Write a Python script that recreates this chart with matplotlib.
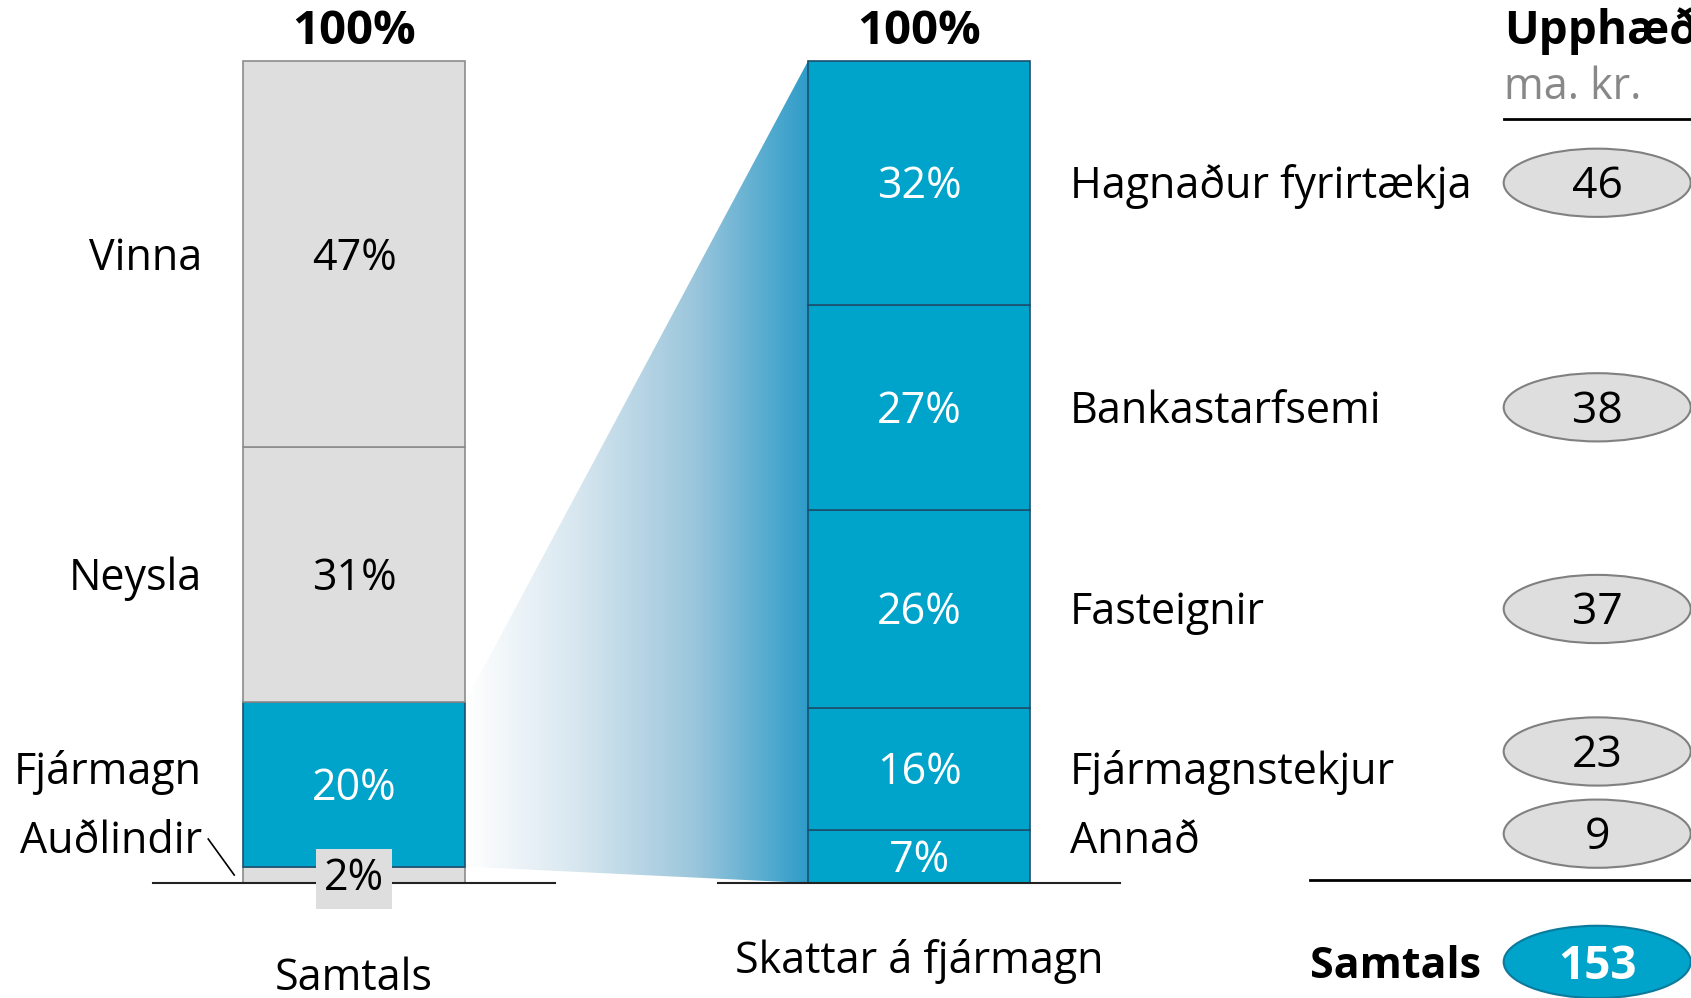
import numpy as np
import matplotlib.pyplot as plt
from matplotlib.patches import Ellipse, Polygon
from matplotlib.colors import LinearSegmentedColormap

plt.rcParams['font.family'] = ['Open Sans', 'DejaVu Sans']

# left bar: share of total taxes (bottom -> top)
left_cats = ['Auðlindir', 'Fjármagn', 'Neysla', 'Vinna']
left_pct = [2, 20, 31, 47]
# right bar: breakdown of capital taxes (bottom -> top)
right_cats = ['Annað', 'Fjármagnstekjur', 'Fasteignir', 'Bankastarfsemi', 'Hagnaður fyrirtækja']
right_pct = [7, 16, 26, 27, 32]
amounts = [9, 23, 37, 38, 46]
total = 153

BLUE = '#00a3c9'
GRAY = '#dedede'
left_colors = [GRAY, BLUE, GRAY, GRAY]


def spread(vals, floor, gap):
    out = []
    for v in vals:
        v = max(v, floor) if not out else max(v, out[-1] + gap)
        out.append(v)
    return out


fig = plt.figure(figsize=(16.91, 9.98), dpi=100)
ax = fig.add_axes([0, 0, 1, 1])
ax.set_xlim(-0.6265, 2.366)
ax.set_ylim(-13.99, 107.42)
ax.axis('off')

DY = -0.5  # text nudge
fs = 31

w = 0.393
lb = np.concatenate([[0], np.cumsum(left_pct)[:-1]])
for b, v, c in zip(lb, left_pct, left_colors):
    ax.bar(0, v, bottom=b, width=w, color=c,
           edgecolor='#1d4f6e' if c == BLUE else '#8c8c8c', linewidth=1.2, zorder=3)

rs = np.array(right_pct) * 100 / sum(right_pct)
rb = np.concatenate([[0], np.cumsum(rs)[:-1]])
ax.bar(1, rs, bottom=rb, width=w, color=BLUE, edgecolor='#1d4f6e', linewidth=1.2, zorder=3)

# gradient wedge from Fjármagn to right bar
fj = left_cats.index('Fjármagn')
x0, x1 = w / 2, 1 - w / 2
poly = Polygon([(x0, lb[fj] + left_pct[fj]), (x1, 100), (x1, 0), (x0, lb[fj])],
               closed=True, facecolor='none', edgecolor='none')
ax.add_patch(poly)
cmap = LinearSegmentedColormap.from_list('fade', ['#ffffff', '#d6e6ef', '#9cc6dc', '#2e9cc8'])
grad = np.linspace(0, 1, 256).reshape(1, -1)
im = ax.imshow(grad, extent=(x0, x1, 0, 100), aspect='auto', cmap=cmap, zorder=1)
im.set_clip_path(poly)

# baselines
for xc in [0, 1]:
    ax.plot([xc - 0.355, xc + 0.355], [0, 0], color='#222222', lw=1.5, zorder=4)

lc = lb + np.array(left_pct) / 2
ly = spread(lc, 5.5, 8.4)
for cat, y in zip(left_cats, ly):
    ax.text(-0.269, y + DY, cat, ha='right', va='center', fontsize=fs)
for v, y, c in zip(left_pct, lc, left_colors):
    if v < 5:
        ax.text(0, 1.0 + DY, f'{v}%', ha='center', va='center', fontsize=fs, zorder=6,
                bbox=dict(boxstyle='square,pad=0.18', fc=GRAY, ec='none'))
    else:
        ax.text(0, y + DY, f'{v}%', ha='center', va='center', fontsize=fs,
                color='white' if c == BLUE else 'black', zorder=6)
ax.plot([-0.258, -0.212], [5.35, 0.97], color='black', lw=1.2)

rc = rb + rs / 2
ry = spread(rc, 5.5, 8.5)
for cat, y in zip(right_cats, ry):
    ax.text(1.267, y + DY, cat, ha='left', va='center', fontsize=fs)
for v, y in zip(right_pct, rc):
    ax.text(1, y + DY, f'{v}%', ha='center', va='center', fontsize=fs, color='white', zorder=6)

ey = spread(rc, 6.0, 10.0)
ex = 2.2
for a, y in zip(amounts, ey):
    ax.add_patch(Ellipse((ex, y), 0.331, 8.3, fc=GRAY, ec='#808080', lw=1.5, zorder=5))
    ax.text(ex, y + DY, str(a), ha='center', va='center', fontsize=32, zorder=6)
ax.add_patch(Ellipse((ex, -9.6), 0.331, 8.8, fc=BLUE, ec='#0b7a9c', lw=1.5, zorder=5))
ax.text(ex, -9.6 + DY, str(total), ha='center', va='center', fontsize=33,
        fontweight='bold', color='white', zorder=6)

for xc in [0, 1]:
    ax.text(xc, 104.1 + DY, '100%', ha='center', va='center', fontsize=34, fontweight='bold')
ax.text(0, -11.2 + DY, 'Samtals', ha='center', va='center', fontsize=fs)
ax.text(1, -9.1 + DY, 'Skattar á fjármagn', ha='center', va='center', fontsize=fs)

ax.text(2.035, 104.1 + DY, 'Upphæð', ha='left', va='center', fontsize=33, fontweight='bold')
ax.text(2.035, 97.2 + DY, 'ma. kr.', ha='left', va='center', fontsize=fs, color='#888888')
ax.plot([2.035, 2.4], [93.0, 93.0], color='black', lw=2)
ax.plot([1.692, 2.4], [0.37, 0.37], color='black', lw=2)
ax.text(1.692, -9.7 + DY, 'Samtals', ha='left', va='center', fontsize=fs, fontweight='bold')

fig.savefig('out.png', dpi=100)
